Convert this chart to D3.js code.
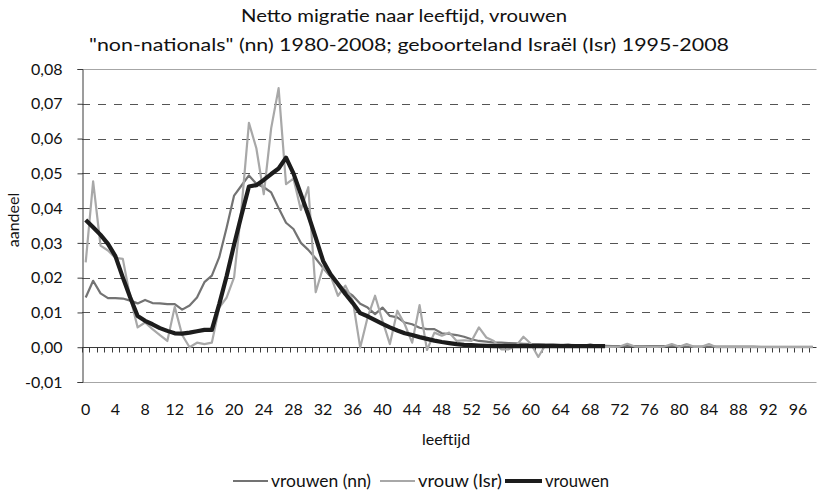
<!DOCTYPE html>
<html>
<head>
<meta charset="utf-8">
<script src="https://cdn.jsdelivr.net/npm/d3@7"></script>
<style>
  body { margin: 0; background: #fff; }
  text { font-family: Lato, "Open Sans", sans-serif; fill: #111; }
</style>
</head>
<body>
<script>
// ages 0..98
var ages = d3.range(0, 99);

// "non-nationals" 1980-2008
var nnValues = [
  0.0143, 0.0191, 0.0155, 0.0141, 0.0141, 0.0140, 0.0134, 0.0126, 0.0136, 0.0127,
  0.0126, 0.0124, 0.0124, 0.0108, 0.0120, 0.0143, 0.0187, 0.0206, 0.0259, 0.0344,
  0.0436, 0.0465, 0.0494, 0.0470, 0.0460, 0.0445, 0.0400, 0.0358, 0.0340, 0.0300,
  0.0280, 0.0255, 0.0228, 0.0203, 0.0182, 0.0163, 0.0148, 0.0125, 0.0114, 0.0095,
  0.0114, 0.0090, 0.0086, 0.0071, 0.0066, 0.0056, 0.0052, 0.0052, 0.0040, 0.0038,
  0.0035, 0.0030, 0.0023, 0.0018, 0.0016, 0.0013, 0.0013, 0.0012, 0.0011, 0.0010,
  0.0009, 0.0009, 0.0008, 0.0008, 0.0007, 0.0007, 0.0006, 0.0006, 0.0005, 0.0004,
  0.0004, 0.0003, 0.0003, 0.0003, 0.0003, 0.0003, 0.0003, 0.0003, 0.0003, 0.0003,
  0.0003, 0.0002, 0.0002, 0.0002, 0.0002, 0.0002, 0.0002, 0.0002, 0.0002, 0.0002,
  0.0002, 0.0001, 0.0001, 0.0001, 0.0001, 0.0001, 0.0001, 0.0001, 0.0001
];

// geboorteland Israel 1995-2008
var isrValues = [
  0.0244, 0.0477, 0.0292, 0.0278, 0.0257, 0.0254, 0.0143, 0.0057, 0.0071, 0.0052,
  0.0035, 0.0018, 0.0116, 0.0035, 0.0000, 0.0013, 0.0009, 0.0013, 0.0114, 0.0143,
  0.0201, 0.0400, 0.0645, 0.0572, 0.0440, 0.0630, 0.0745, 0.0469, 0.0485, 0.0395,
  0.0460, 0.0158, 0.0230, 0.0206, 0.0148, 0.0177, 0.0134, -0.0001, 0.0086, 0.0148,
  0.0076, 0.0009, 0.0105, 0.0066, 0.0013, 0.0121, -0.0008, 0.0042, 0.0033, 0.0042,
  0.0018, 0.0020, 0.0018, 0.0057, 0.0028, 0.0018, -0.0006, -0.0006, 0.0004, 0.0030,
  0.0010, -0.0028, 0.0008, 0.0005, 0.0004, 0.0009, 0.0002, 0.0002, 0.0009, 0.0002,
  0.0001, 0.0001, 0.0002, 0.0010, 0.0002, 0.0002, 0.0001, 0.0001, 0.0002, 0.0009,
  0.0001, 0.0009, 0.0001, 0.0001, 0.0009, 0.0000, 0.0000, 0.0000, 0.0000, 0.0000,
  0.0000, 0.0000, 0.0000, 0.0000, 0.0000, 0.0000, 0.0000, 0.0000, 0.0000
];

// vrouwen (ages 0..70)
var vrouwenValues = [
  0.0366, 0.0345, 0.0323, 0.0297, 0.0262, 0.0201, 0.0143, 0.0090, 0.0076, 0.0066,
  0.0055, 0.0047, 0.0040, 0.0039, 0.0042, 0.0046, 0.0050, 0.0050, 0.0124, 0.0205,
  0.0295, 0.0380, 0.0462, 0.0466, 0.0481, 0.0498, 0.0514, 0.0545, 0.0500, 0.0440,
  0.0380, 0.0315, 0.0248, 0.0210, 0.0182, 0.0153, 0.0127, 0.0098, 0.0089, 0.0078,
  0.0067, 0.0057, 0.0048, 0.0040, 0.0035, 0.0029, 0.0024, 0.0019, 0.0015, 0.0012,
  0.0009, 0.0007, 0.0006, 0.0005, 0.0004, 0.0003, 0.0003, 0.0003, 0.0003, 0.0003,
  0.0003, 0.0003, 0.0003, 0.0003, 0.0003, 0.0003, 0.0003, 0.0003, 0.0003, 0.0003,
  0.0003
];

var yTicks = [-0.01, 0, 0.01, 0.02, 0.03, 0.04, 0.05, 0.06, 0.07, 0.08];
var xLabelAges = d3.range(0, 99, 4);

var series = [
  { name: "vrouwen (nn)", values: nnValues, color: "#737373", width: 2.2 },
  { name: "vrouw (Isr)", values: isrValues, color: "#a8a8a8", width: 2.2 },
  { name: "vrouwen", values: vrouwenValues, color: "#1c1c1c", width: 4.2 }
];

var width = 817;
var height = 492;

var svg = d3.select("body")
  .append("svg")
    .attr("width", width)
    .attr("height", height);

var x = d3.scaleBand()
  .domain(ages)
  .range([82, 816.5]);

var y = d3.scaleLinear()
  .domain([-0.01, 0.08])
  .range([382, 69]);

var fmt = function(d) { return d3.format(".2f")(d).replace(".", ",").replace("−", "-"); };

// grid lines
svg.selectAll(".grid")
  .data(yTicks.filter(function(d) { return d !== 0; }))
  .enter()
  .append("line")
    .attr("class", "grid")
    .attr("x1", 82)
    .attr("x2", 816.5)
    .attr("y1", function(d) { return Math.round(y(d)) + 0.5; })
    .attr("y2", function(d) { return Math.round(y(d)) + 0.5; })
    .attr("stroke", function(d) { return (d === 0.08 || d === -0.01) ? "#a6a6a6" : "#555"; })
    .attr("stroke-width", 1)
    .attr("stroke-dasharray", function(d) { return (d === 0.08 || d === -0.01) ? null : "8,8"; });

// y axis
var yAxis = svg.append("g")
  .attr("transform", "translate(82.5,0)")
  .call(d3.axisLeft(y).tickValues(yTicks).tickSize(5).tickFormat(fmt));
yAxis.select(".domain").attr("stroke", "#3a3a3a");
yAxis.selectAll(".tick line").attr("stroke", "#3a3a3a");
yAxis.selectAll(".tick text")
  .attr("x", -20)
  .style("font-family", "Lato, sans-serif")
  .style("font-size", "16px")
  .attr("fill", "#111");

// x axis along zero
var y0 = Math.round(y(0)) + 0.5;
svg.append("line")
  .attr("x1", 82).attr("x2", 816.5)
  .attr("y1", y0).attr("y2", y0)
  .attr("stroke", "#3a3a3a");

svg.selectAll(".xtick")
  .data(ages.concat([99]))
  .enter()
  .append("line")
    .attr("class", "xtick")
    .attr("x1", function(d) { return Math.round(82 + d * x.step()) + 0.5; })
    .attr("x2", function(d) { return Math.round(82 + d * x.step()) + 0.5; })
    .attr("y1", y0)
    .attr("y2", y0 + 5)
    .attr("stroke", "#3a3a3a");

svg.selectAll(".xlabel")
  .data(xLabelAges)
  .enter()
  .append("text")
    .attr("class", "xlabel")
    .attr("x", function(d) { return x(d) + x.bandwidth() / 2; })
    .attr("y", 415)
    .attr("text-anchor", "middle")
    .style("font-size", "16px")
    .text(function(d) { return d; });

// lines
var line = d3.line()
  .x(function(d, i) { return x(i) + x.bandwidth() / 2; })
  .y(function(d) { return y(d); });

svg.selectAll(".series")
  .data(series)
  .enter()
  .append("path")
    .attr("class", "series")
    .attr("d", function(d) { return line(d.values); })
    .attr("fill", "none")
    .attr("stroke", function(d) { return d.color; })
    .attr("stroke-width", function(d) { return d.width; })
    .attr("stroke-linejoin", "round");

// titles
svg.append("text")
  .attr("x", 404)
  .attr("y", 22)
  .attr("text-anchor", "middle")
  .attr("textLength", 326)
  .attr("lengthAdjust", "spacingAndGlyphs")
  .style("font-size", "18px")
  .text("Netto migratie naar leeftijd, vrouwen");

svg.append("text")
  .attr("x", 409)
  .attr("y", 51)
  .attr("text-anchor", "middle")
  .attr("textLength", 640)
  .attr("lengthAdjust", "spacingAndGlyphs")
  .style("font-size", "18px")
  .text("\"non-nationals\" (nn) 1980-2008; geboorteland Israël (Isr) 1995-2008");

svg.append("text")
  .attr("transform", "translate(19,220) rotate(-90)")
  .attr("text-anchor", "middle")
  .style("font-size", "16px")
  .text("aandeel");

svg.append("text")
  .attr("x", 446)
  .attr("y", 445)
  .attr("text-anchor", "middle")
  .style("font-size", "16px")
  .text("leeftijd");

// legend
var legendItems = [
  { s: series[0], x1: 233, x2: 268, tx: 271, len: 100 },
  { s: series[1], x1: 380, x2: 415, tx: 418, len: 84 },
  { s: series[2], x1: 505, x2: 542, tx: 545, len: 64 }
];

var legend = svg.selectAll(".legend")
  .data(legendItems)
  .enter()
  .append("g")
    .attr("class", "legend");

legend.append("line")
  .attr("x1", function(d) { return d.x1; })
  .attr("x2", function(d) { return d.x2; })
  .attr("y1", 481)
  .attr("y2", 481)
  .attr("stroke", function(d) { return d.s.color; })
  .attr("stroke-width", function(d) { return d.s.width; });

legend.append("text")
  .attr("x", function(d) { return d.tx; })
  .attr("y", 487)
  .attr("textLength", function(d) { return d.len; })
  .attr("lengthAdjust", "spacingAndGlyphs")
  .style("font-size", "17px")
  .text(function(d) { return d.s.name; });
</script>
</body>
</html>
